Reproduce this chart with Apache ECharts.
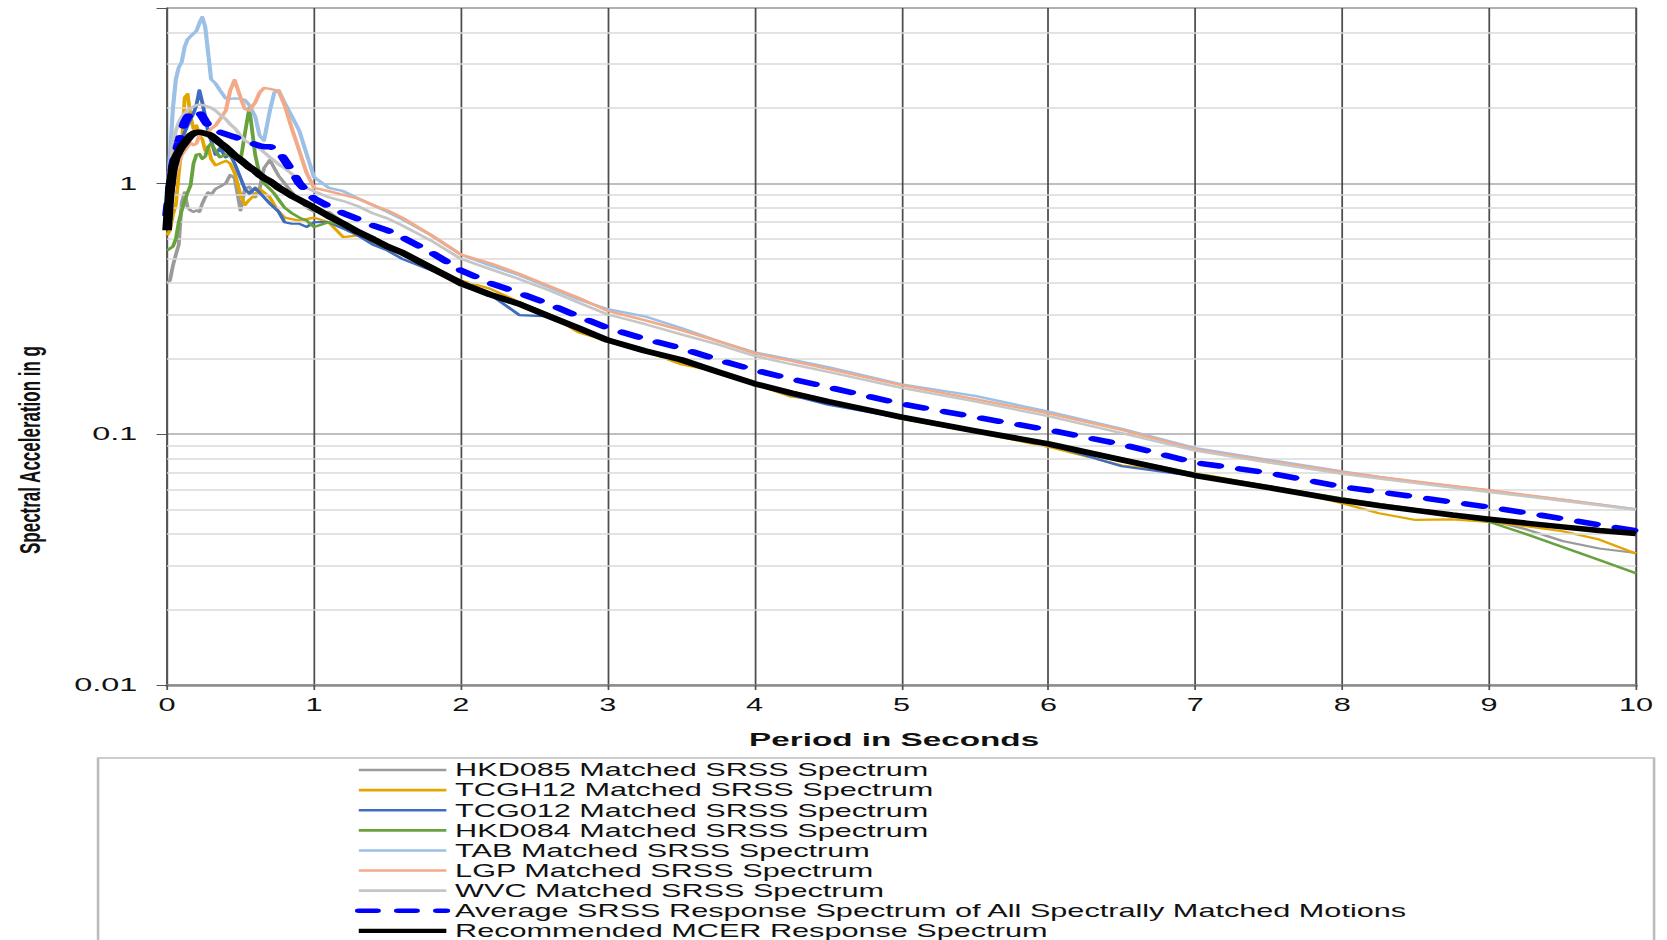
<!DOCTYPE html>
<html>
<head>
<meta charset="utf-8">
<title>Spectrally Matched Response Spectra</title>
<script src="https://cdn.jsdelivr.net/npm/echarts@6/dist/echarts.min.js"></script>
<style>
  html, body { margin: 0; padding: 0; background: #fff; overflow: hidden; width: 1667px; height: 940px; }
  /* chart is laid out at a narrower width and stretched horizontally to the page width */
  #chart { width: 952px; height: 940px; transform: scaleX(1.7510504); transform-origin: 0 0; }
</style>
</head>
<body>
<div id="chart"></div>
<script>
// Period (s)
const periods = [
  0, 0.02, 0.04, 0.06, 0.08, 0.1, 0.12, 0.14, 0.16, 0.18,
  0.2, 0.22, 0.24, 0.26, 0.28, 0.3, 0.33, 0.36, 0.4, 0.43,
  0.46, 0.5, 0.53, 0.56, 0.6, 0.63, 0.66, 0.7, 0.73, 0.76,
  0.8, 0.85, 0.9, 0.95, 1.0, 1.1, 1.2, 1.3, 1.4, 1.5,
  1.6, 1.8, 2.0, 2.2, 2.4, 2.6, 2.8, 3.0, 3.25, 3.5,
  3.75, 4.0, 4.25, 4.5, 5.0, 5.5, 6.0, 6.5, 7.0, 7.5,
  8.0, 8.25, 8.5, 8.75, 9.0, 9.25, 9.5, 9.75, 10
];

// Spectral acceleration (g) of each matched motion
const hkd085 = [
  0.40, 0.41, 0.47, 0.52, 0.57, 0.84, 0.92, 0.80, 0.78, 0.77,
  0.78, 0.77, 0.83, 0.88, 0.92, 0.90, 0.95, 0.97, 1.00, 1.08,
  1.05, 0.78, 0.95, 0.97, 0.88, 0.95, 1.15, 1.24, 1.15, 1.07,
  1.00, 0.92, 0.86, 0.80, 0.77, 0.77, 0.70, 0.65, 0.60, 0.57,
  0.53, 0.46, 0.39, 0.36, 0.33, 0.30, 0.267, 0.238, 0.216, 0.197,
  0.178, 0.160, 0.148, 0.136, 0.118, 0.104, 0.092, 0.080, 0.069, 0.0615,
  0.055, 0.0525, 0.050, 0.0478, 0.0455, 0.0418, 0.0375, 0.0350, 0.0336
];
const tcgh12 = [
  0.62, 0.65, 0.75, 0.82, 1.10, 1.40, 2.20, 2.27, 1.85, 1.65,
  1.70, 1.55, 1.50, 1.35, 1.40, 1.25, 1.18, 1.20, 1.23, 1.20,
  1.10, 0.90, 0.82, 0.86, 0.90, 0.95, 0.92, 0.88, 0.82, 0.77,
  0.73, 0.72, 0.71, 0.72, 0.73, 0.70, 0.61, 0.62, 0.58, 0.55,
  0.52, 0.455, 0.41, 0.38, 0.335, 0.30, 0.255, 0.235, 0.215, 0.19,
  0.177, 0.158, 0.141, 0.136, 0.115, 0.102, 0.089, 0.075, 0.070, 0.062,
  0.053, 0.0484, 0.0455, 0.0457, 0.0447, 0.0430, 0.0410, 0.0380, 0.0334
];
const tcg012 = [
  0.68, 0.80, 0.95, 1.15, 1.35, 1.48, 1.60, 1.70, 1.80, 1.90,
  2.05, 2.35, 2.10, 1.84, 1.60, 1.48, 1.30, 1.38, 1.27, 1.30,
  1.20, 1.05, 0.95, 0.91, 0.96, 0.92, 0.88, 0.83, 0.80, 0.77,
  0.70, 0.69, 0.69, 0.67, 0.70, 0.70, 0.66, 0.62, 0.57, 0.54,
  0.50, 0.45, 0.40, 0.36, 0.298, 0.295, 0.262, 0.234, 0.213, 0.196,
  0.175, 0.158, 0.143, 0.131, 0.116, 0.103, 0.091, 0.0745, 0.068, 0.061,
  0.0545, 0.052, 0.0498, 0.0477, 0.0459, 0.0443, 0.0428, 0.0414, 0.0403
];
const hkd084 = [
  0.54, 0.55, 0.56, 0.60, 0.70, 0.78, 0.85, 0.92, 0.98, 1.20,
  1.30, 1.31, 1.25, 1.28, 1.40, 1.44, 1.35, 1.27, 1.30, 1.28,
  1.27, 1.23, 1.58, 2.00, 1.30, 1.08, 1.00, 0.95, 0.91, 0.86,
  0.80, 0.76, 0.73, 0.71, 0.67, 0.70, 0.68, 0.64, 0.60, 0.565,
  0.535, 0.47, 0.405, 0.365, 0.335, 0.30, 0.268, 0.240, 0.218, 0.199,
  0.178, 0.160, 0.147, 0.136, 0.118, 0.104, 0.092, 0.080, 0.0695, 0.062,
  0.0555, 0.0528, 0.0503, 0.0475, 0.0447, 0.0400, 0.0355, 0.0315, 0.0279
];
const tab = [
  0.85, 1.30, 2.00, 2.60, 2.90, 3.05, 3.50, 3.75, 3.85, 3.95,
  4.05, 4.35, 4.60, 4.20, 3.30, 2.60, 2.50, 2.35, 2.18, 2.17,
  2.18, 2.17, 2.15, 2.05, 1.85, 1.55, 1.48, 1.95, 2.30, 2.35,
  2.10, 1.85, 1.62, 1.31, 1.06, 0.96, 0.93, 0.87, 0.82, 0.77,
  0.72, 0.62, 0.52, 0.47, 0.43, 0.385, 0.345, 0.315, 0.295, 0.265,
  0.235, 0.212, 0.198, 0.185, 0.158, 0.142, 0.123, 0.105, 0.088, 0.079,
  0.071, 0.0675, 0.0645, 0.062, 0.0597, 0.057, 0.0548, 0.0525, 0.0502
];
const lgp = [
  0.65, 0.85, 1.00, 1.10, 1.20, 1.30, 1.35, 1.40, 1.45, 1.42,
  1.44, 1.55, 1.60, 1.55, 1.60, 1.65, 1.70, 1.80, 1.95, 2.35,
  2.58, 2.20, 1.98, 1.95, 2.10, 2.30, 2.40, 2.38, 2.36, 2.33,
  2.05, 1.65, 1.35, 1.10, 0.96, 0.93, 0.90, 0.87, 0.82, 0.78,
  0.73, 0.62, 0.52, 0.48, 0.435, 0.39, 0.35, 0.31, 0.285, 0.26,
  0.235, 0.21, 0.196, 0.182, 0.157, 0.138, 0.121, 0.104, 0.087, 0.078,
  0.0705, 0.0675, 0.0648, 0.0622, 0.0598, 0.0572, 0.0548, 0.0524, 0.050
];
const wvc = [
  0.70, 1.10, 1.45, 1.62, 1.75, 1.84, 1.90, 1.95, 2.00, 2.02,
  2.05, 2.06, 2.05, 2.04, 2.02, 2.00, 1.95, 1.88, 1.80, 1.72,
  1.66, 1.55, 1.48, 1.45, 1.41, 1.38, 1.33, 1.27, 1.23, 1.19,
  1.15, 1.09, 1.02, 0.96, 0.93, 0.88, 0.85, 0.81, 0.76, 0.725,
  0.68, 0.59, 0.50, 0.455, 0.415, 0.375, 0.335, 0.30, 0.275, 0.25,
  0.228, 0.205, 0.19, 0.177, 0.153, 0.135, 0.118, 0.101, 0.086, 0.077,
  0.0695, 0.0665, 0.0638, 0.0612, 0.0588, 0.0565, 0.0542, 0.052, 0.050
];
const averageSrss = [
  0.75, 0.95, 1.18, 1.32, 1.45, 1.62, 1.75, 1.84, 1.90, 1.94,
  1.95, 1.92, 1.85, 1.77, 1.70, 1.67, 1.63, 1.60, 1.57, 1.55,
  1.53, 1.50, 1.48, 1.46, 1.43, 1.41, 1.40, 1.40, 1.38, 1.34,
  1.24, 1.12, 1.00, 0.93, 0.87, 0.81, 0.76, 0.72, 0.68, 0.65,
  0.61, 0.53, 0.45, 0.40, 0.365, 0.33, 0.295, 0.265, 0.24, 0.22,
  0.198, 0.180, 0.166, 0.154, 0.132, 0.117, 0.104, 0.091, 0.077, 0.070,
  0.0617, 0.0589, 0.0562, 0.0536, 0.0512, 0.0486, 0.0460, 0.0435, 0.0412
];
const mcer = [
  0.65, 0.95, 1.15, 1.27, 1.34, 1.40, 1.45, 1.50, 1.55, 1.58,
  1.60, 1.60, 1.59, 1.58, 1.57, 1.55, 1.50, 1.45, 1.39, 1.34,
  1.29, 1.24, 1.20, 1.16, 1.12, 1.08, 1.05, 1.02, 0.99, 0.96,
  0.93, 0.89, 0.86, 0.83, 0.80, 0.74, 0.69, 0.64, 0.60, 0.56,
  0.53, 0.46, 0.40, 0.36, 0.33, 0.295, 0.265, 0.237, 0.215, 0.198,
  0.177, 0.159, 0.146, 0.135, 0.117, 0.103, 0.0915, 0.079, 0.0684, 0.0612,
  0.0545, 0.0519, 0.0497, 0.0476, 0.0458, 0.0442, 0.0427, 0.0413, 0.0402
];

const seriesNames = [
  'HKD085 Matched SRSS Spectrum',
  'TCGH12 Matched SRSS Spectrum',
  'TCG012 Matched SRSS Spectrum',
  'HKD084 Matched SRSS Spectrum',
  'TAB Matched SRSS Spectrum',
  'LGP Matched SRSS Spectrum',
  'WVC Matched SRSS Spectrum',
  'Average SRSS Response Spectrum of All Spectrally Matched Motions',
  'Recommended MCER Response Spectrum'
];
const seriesValues = [hkd085, tcgh12, tcg012, hkd084, tab, lgp, wvc, averageSrss, mcer];

// Log-axis gridline values between the decades
const minorGridValues = [
  0.02, 0.03, 0.04, 0.05, 0.06, 0.07, 0.08, 0.09,
  0.2, 0.3, 0.4, 0.5, 0.6, 0.7, 0.8, 0.9,
  2, 3, 4
];

const FONT = '"Liberation Sans", Arial, Helvetica, sans-serif';
const colors = ['#9b9b9b', '#e3a600', '#3f6cbf', '#68a23e', '#9cc0e6', '#f3aa88', '#c6c6c6', '#0000ff', '#000000'];
const widths = [2.2, 2.2, 2.2, 2.2, 2.4, 2.4, 2.4, 5.5, 5.5];
const legendWidths = [2.6, 2.6, 2.6, 2.6, 2.6, 2.6, 2.6, 4.4, 4.4];

const chart = echarts.init(document.getElementById('chart'), null, { renderer: 'svg' });

const series = [{
  name: 'gridlines',
  type: 'line',
  data: [],
  z: 1,
  silent: true,
  markLine: {
    silent: true,
    symbol: 'none',
    animation: false,
    label: { show: false },
    lineStyle: { color: '#dadada', width: 1.5, type: 'solid' },
    data: minorGridValues.map(v => ({ yAxis: v }))
  }
}];

seriesNames.forEach((name, i) => {
  const dashed = i === 7;
  series.push({
    name: name,
    type: 'line',
    z: 3 + i,
    data: periods.map((t, k) => [t, seriesValues[i][k]]),
    symbol: 'none',
    showSymbol: false,
    smooth: false,
    clip: true,
    lineStyle: {
      color: colors[i],
      width: widths[i],
      type: dashed ? [10.4, 11.9] : 'solid',
      cap: dashed ? 'round' : 'butt',
      join: 'round'
    },
    itemStyle: { color: colors[i] },
    emphasis: { disabled: true }
  });
});

const option = {
  animation: false,
  backgroundColor: '#ffffff',
  grid: {
    left: 95.4, right: 17.7, top: 8, bottom: 255,
    show: true, borderColor: '#8f8f8f', borderWidth: 1, backgroundColor: 'transparent'
  },
  xAxis: {
    type: 'value',
    min: 0, max: 10, interval: 1,
    axisLine: { show: true, onZero: false, lineStyle: { color: '#8c8c8c', width: 2.5 } },
    axisTick: { show: true, length: 5, lineStyle: { color: '#555' } },
    axisLabel: { margin: 11, fontSize: 17.5, color: '#111', fontFamily: FONT, showMinLabel: true, showMaxLabel: true },
    splitLine: { show: true, lineStyle: { color: '#4d4d4d', width: 1 } },
    name: 'Period in Seconds',
    nameLocation: 'middle',
    nameGap: 45,
    nameTextStyle: { fontSize: 19, fontWeight: 'bold', color: '#111', fontFamily: FONT, padding: [0, 8.5, 0, 0] }
  },
  yAxis: {
    type: 'log',
    logBase: 10,
    min: 0.01, max: 5,
    axisLine: { show: true, lineStyle: { color: '#555', width: 1 } },
    axisTick: { show: true, length: 6, lineStyle: { color: '#555' } },
    axisLabel: {
      margin: 17, fontSize: 18.5, color: '#111', fontFamily: FONT,
      formatter: v => {
        const l = Math.log10(v);
        return Math.abs(l - Math.round(l)) < 1e-6 ? String(Math.pow(10, Math.round(l))) : '';
      }
    },
    splitLine: { show: true, lineStyle: { color: '#a8a8a8', width: 1.5 } }
  },
  legend: {
    show: true,
    orient: 'vertical',
    left: 202.7,
    top: 760,
    height: 200,
    padding: 0,
    itemGap: 0,
    itemWidth: 50,
    itemHeight: 14,
    selectedMode: false,
    itemStyle: { opacity: 0, borderWidth: 0 },
    textStyle: { fontSize: 17.5, lineHeight: 20.1, color: '#111', fontFamily: FONT },
    data: seriesNames.map((name, i) => ({
      name: name,
      lineStyle: { width: legendWidths[i], opacity: 1 }
    }))
  },
  graphic: [
    {
      type: 'rect',
      z: -1,
      silent: true,
      shape: { x: 56, y: 758, width: 888.6, height: 240 },
      style: { fill: 'none', stroke: '#bdbdbd', lineWidth: 1.5 }
    },
    {
      type: 'text',
      silent: true,
      x: 17.1,
      y: 450,
      rotation: Math.PI / 2,
      style: {
        text: 'Spectral Acceleration in g',
        font: 'bold 17px ' + FONT,
        fill: '#111',
        align: 'center',
        verticalAlign: 'middle'
      }
    }
  ],
  series: series
};

chart.setOption(option);
</script>
</body>
</html>
